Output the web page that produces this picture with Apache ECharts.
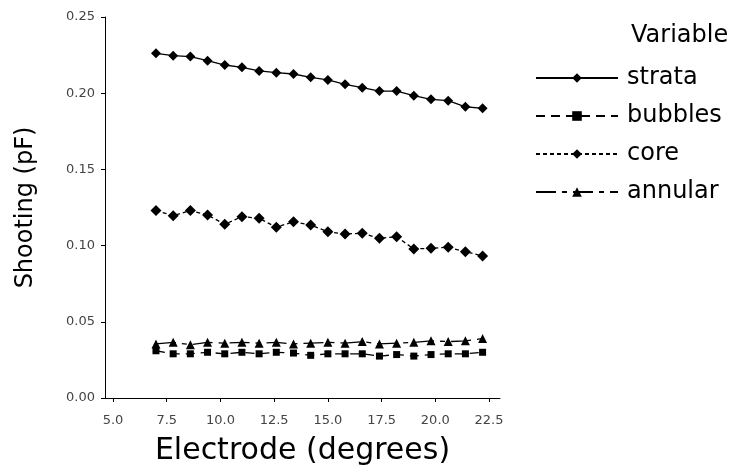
<!DOCTYPE html>
<html>
<head>
<meta charset="utf-8">
<script src="https://cdn.jsdelivr.net/npm/echarts@6/dist/echarts.min.js"></script>
<style>
html,body{margin:0;padding:0;background:#fff;}
#chart{width:734px;height:473px;}
</style>
</head>
<body>
<div id="chart"></div>
<script>
var electrode = [7.0, 7.8, 8.6, 9.4, 10.2, 11.0, 11.8, 12.6, 13.4, 14.2, 15.0, 15.8, 16.6, 17.4, 18.2, 19.0, 19.8, 20.6, 21.4, 22.2];
var strata  = [0.2262, 0.2246, 0.2240, 0.2213, 0.2185, 0.2170, 0.2146, 0.2135, 0.2126, 0.2104, 0.2087, 0.2058, 0.2036, 0.2014, 0.2014, 0.1984, 0.1960, 0.1951, 0.1911, 0.1901];
var bubbles = [0.0310, 0.0290, 0.0290, 0.0300, 0.0290, 0.0300, 0.0290, 0.0300, 0.0295, 0.0280, 0.0290, 0.0290, 0.0290, 0.0275, 0.0285, 0.0275, 0.0285, 0.0290, 0.0290, 0.0300];
var core    = [0.1230, 0.1196, 0.1230, 0.1201, 0.1140, 0.1190, 0.1179, 0.1120, 0.1157, 0.1135, 0.1091, 0.1076, 0.1081, 0.1048, 0.1058, 0.0978, 0.0982, 0.0989, 0.0960, 0.0932];
var annular = [0.0355, 0.0365, 0.0350, 0.0365, 0.0360, 0.0365, 0.0360, 0.0365, 0.0355, 0.0360, 0.0365, 0.0360, 0.0370, 0.0355, 0.0360, 0.0365, 0.0375, 0.0370, 0.0375, 0.0390];
var xTicks = [5.0, 7.5, 10.0, 12.5, 15.0, 17.5, 20.0, 22.5];
var seriesNames = ['strata', 'bubbles', 'core', 'annular'];

function pairs(ys){ return electrode.map(function(x,i){ return [x, ys[i]]; }); }

var FONT = 'DejaVu Sans';
var chart = echarts.init(document.getElementById('chart'), null, {renderer:'canvas'});
var common = {type:'line', color:'#000', itemStyle:{color:'#000'}, animation:false, clip:false};

chart.setOption({
  backgroundColor:'#fff',
  animation:false,
  textStyle:{fontFamily:FONT},
  title:{text:'Variable', left:626, top:19, textStyle:{fontFamily:FONT, fontSize:24, fontWeight:'normal', color:'#000'}},
  legend:{
    orient:'vertical', left:530, top:61,
    itemWidth:82, itemHeight:12, itemGap:14,
    data:seriesNames,
    textStyle:{fontFamily:FONT, fontSize:24, lineHeight:24, color:'#000', padding:[0,0,0,4]}
  },
  grid:{left:105, right:234, top:17, bottom:75},
  xAxis:{
    type:'value', min:4.628, max:23.01, offset:5,
    axisLine:{show:true, lineStyle:{color:'#000', width:1}},
    axisTick:{show:true, length:4, customValues:xTicks, lineStyle:{color:'#000'}},
    axisLabel:{customValues:xTicks, margin:11, fontFamily:FONT, fontSize:13, color:'#444', formatter:function(v){return v.toFixed(1);}},
    splitLine:{show:false},
    name:'Electrode (degrees)', nameLocation:'middle', nameGap:33,
    nameTextStyle:{fontFamily:FONT, fontSize:30, color:'#000'}
  },
  yAxis:{
    type:'value', min:0, max:0.25, interval:0.05,
    axisLine:{show:true, lineStyle:{color:'#000', width:1}},
    axisTick:{show:true, length:4, lineStyle:{color:'#000'}},
    axisLabel:{margin:10, fontFamily:FONT, fontSize:13, color:'#444', formatter:function(v){return v.toFixed(2);}},
    splitLine:{show:false},
    name:'Shooting (pF)', nameLocation:'middle', nameGap:67,
    nameTextStyle:{fontFamily:FONT, fontSize:24, color:'#000'}
  },
  series:[
    Object.assign({}, common, {name:'strata', data:pairs(strata), symbol:'diamond', symbolSize:10, lineStyle:{color:'#000', width:1.3, type:'solid'}}),
    Object.assign({}, common, {name:'bubbles', data:pairs(bubbles), symbol:'rect', symbolSize:7, lineStyle:{color:'#000', width:1.3, type:[9,6]}}),
    Object.assign({}, common, {name:'core', data:pairs(core), symbol:'diamond', symbolSize:11, lineStyle:{color:'#000', width:1.3, type:[4,3]}}),
    Object.assign({}, common, {name:'annular', data:pairs(annular), symbol:'triangle', symbolSize:9, lineStyle:{color:'#000', width:1.3, type:[20,6,5,6]}})
  ]
});
</script>
</body>
</html>
